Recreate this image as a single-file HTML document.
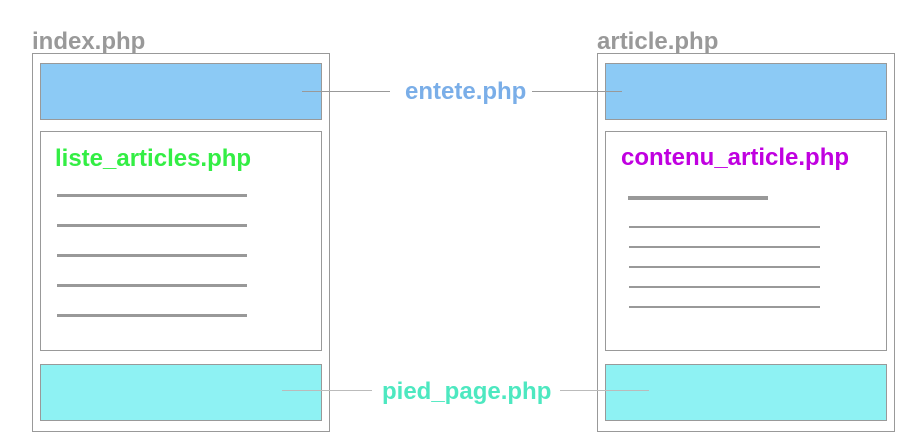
<!DOCTYPE html>
<html><head><style>
body{margin:0;width:912px;height:446px;background:#fff;position:relative;overflow:hidden;font-family:"Liberation Sans",Arial,sans-serif;font-weight:bold}
div{position:absolute;box-sizing:border-box}
.b{border:1px solid #999}
.t{font-size:24px;white-space:nowrap;line-height:1}
.l{background:#999}
</style></head><body>
<div class="t" style="left:32px;top:30px;color:#999">index.php</div>
<div class="t" style="left:597px;top:30px;color:#999">article.php</div>

<div class="b" style="left:32px;top:53px;width:298px;height:379px"></div>
<div class="b" style="left:40px;top:63px;width:282px;height:57px;background:#8ccaf5"></div>
<div class="b" style="left:40px;top:131px;width:282px;height:220px"></div>
<div class="b" style="left:40px;top:364px;width:282px;height:57px;background:#8ef2f3"></div>
<div class="t" style="left:55px;top:147px;color:#33ee44">liste_articles.php</div>
<div class="l" style="left:57px;top:194px;width:190px;height:3px"></div>
<div class="l" style="left:57px;top:224px;width:190px;height:3px"></div>
<div class="l" style="left:57px;top:254px;width:190px;height:3px"></div>
<div class="l" style="left:57px;top:284px;width:190px;height:3px"></div>
<div class="l" style="left:57px;top:314px;width:190px;height:3px"></div>

<div class="b" style="left:597px;top:53px;width:298px;height:379px"></div>
<div class="b" style="left:605px;top:63px;width:282px;height:57px;background:#8ccaf5"></div>
<div class="b" style="left:605px;top:131px;width:282px;height:220px"></div>
<div class="b" style="left:605px;top:364px;width:282px;height:57px;background:#8ef2f3"></div>
<div class="t" style="left:621px;top:146px;color:#c000e0">contenu_article.php</div>
<div class="l" style="left:628px;top:196px;width:140px;height:4px"></div>
<div class="l" style="left:629px;top:226px;width:191px;height:2px"></div>
<div class="l" style="left:629px;top:246px;width:191px;height:2px"></div>
<div class="l" style="left:629px;top:266px;width:191px;height:2px"></div>
<div class="l" style="left:629px;top:286px;width:191px;height:2px"></div>
<div class="l" style="left:629px;top:306px;width:191px;height:2px"></div>

<div class="l" style="left:302px;top:91px;width:88px;height:1px"></div>
<div class="l" style="left:532px;top:91px;width:90px;height:1px"></div>
<div class="t" style="left:405px;top:80px;color:#7aaee8">entete.php</div>
<div class="l" style="left:282px;top:390px;width:90px;height:1px;background:#bbb"></div>
<div class="l" style="left:560px;top:390px;width:89px;height:1px;background:#bbb"></div>
<div class="t" style="left:382px;top:380px;color:#4de8c0">pied_page.php</div>
</body></html>
